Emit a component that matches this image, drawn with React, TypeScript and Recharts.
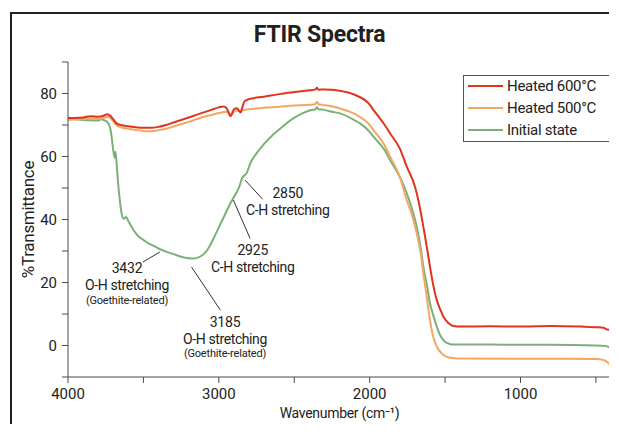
import React from 'react';
import { LineChart, Line, XAxis, YAxis, ReferenceLine, ReferenceDot, Label } from 'recharts';

const seriesNames = ['Heated 600°C', 'Heated 500°C', 'Initial state'];
const seriesColors = ['#e0341f', '#f3a764', '#7bb077'];

// wavenumber (cm-1) / %transmittance
const heated600Wn = [4000, 3900, 3850, 3800, 3760, 3740, 3720, 3700, 3680, 3650, 3600, 3550, 3500, 3450, 3400, 3350, 3300, 3250, 3200, 3150, 3100, 3050, 3000, 2970, 2950, 2935, 2925, 2915, 2900, 2880, 2865, 2855, 2845, 2830, 2800, 2700, 2600, 2500, 2400, 2360, 2350, 2340, 2300, 2200, 2100, 2000, 1975, 1900, 1865, 1800, 1754, 1700, 1688, 1660, 1644, 1620, 1600, 1580, 1555, 1530, 1511, 1480, 1445, 1400, 1200, 1000, 800, 600, 500, 450, 420, 400];
const heated600T = [72.2, 72.4, 72.8, 72.6, 73.0, 73.4, 72.9, 71.8, 70.6, 70.0, 69.6, 69.3, 69.1, 69.1, 69.4, 70.0, 70.8, 71.6, 72.4, 73.2, 74.0, 74.8, 75.6, 75.9, 75.4, 74.0, 72.8, 73.3, 75.0, 75.3, 74.4, 74.0, 75.5, 77.5, 78.2, 79.0, 79.8, 80.5, 81.0, 81.3, 81.8, 81.2, 81.3, 80.9, 79.6, 76.5, 74.8, 70.0, 67.4, 62.5, 56.8, 50.5, 48.3, 42.0, 37.7, 31.0, 25.0, 19.5, 14.4, 11.2, 9.1, 7.2, 6.2, 6.0, 6.1, 6.0, 6.2, 6.0, 5.8, 5.6, 5.0, 5.4];

const heated500Wn = [4000, 3900, 3800, 3760, 3740, 3720, 3700, 3680, 3650, 3600, 3550, 3500, 3450, 3400, 3350, 3300, 3250, 3200, 3150, 3100, 3050, 3000, 2950, 2930, 2920, 2900, 2880, 2860, 2850, 2800, 2700, 2600, 2500, 2400, 2360, 2350, 2340, 2300, 2200, 2100, 2000, 1975, 1900, 1865, 1800, 1754, 1720, 1688, 1660, 1644, 1620, 1600, 1580, 1555, 1520, 1489, 1450, 1423, 1000, 700, 500, 450, 420, 400];
const heated500T = [71.6, 71.9, 72.0, 72.3, 72.6, 72.2, 71.2, 70.0, 69.3, 68.8, 68.4, 68.1, 68.0, 68.3, 68.8, 69.5, 70.3, 71.0, 71.8, 72.6, 73.2, 73.8, 74.2, 73.6, 73.3, 74.2, 74.6, 74.4, 74.6, 75.0, 75.5, 75.8, 76.2, 76.4, 76.6, 77.4, 76.6, 76.3, 75.3, 73.5, 70.0, 68.4, 63.5, 60.0, 53.5, 46.2, 41.5, 35.6, 28.8, 22.9, 15.0, 8.1, 3.0, -0.4, -2.6, -3.6, -4.0, -4.1, -4.2, -4.2, -4.3, -4.6, -5.5, -6.5];

const initialWn = [4000, 3950, 3900, 3850, 3800, 3780, 3760, 3740, 3720, 3710, 3700, 3690, 3685, 3675, 3665, 3655, 3645, 3630, 3615, 3600, 3570, 3540, 3500, 3450, 3432, 3400, 3350, 3300, 3250, 3200, 3170, 3140, 3100, 3070, 3040, 3000, 2960, 2925, 2904, 2880, 2860, 2850, 2840, 2815, 2790, 2750, 2700, 2639, 2600, 2506, 2450, 2400, 2360, 2350, 2340, 2300, 2250, 2196, 2100, 2064, 2000, 1975, 1900, 1865, 1800, 1754, 1720, 1688, 1660, 1644, 1620, 1600, 1580, 1555, 1530, 1500, 1470, 1450, 1200, 1000, 800, 500, 430, 400];
const initialT = [72.0, 71.8, 71.6, 71.5, 71.4, 71.8, 71.5, 71.0, 69.0, 66.0, 62.0, 59.5, 61.5, 56.0, 50.0, 45.5, 42.0, 40.2, 40.8, 39.5, 37.0, 35.0, 33.5, 32.0, 31.6, 30.8, 29.8, 29.0, 28.2, 27.7, 27.6, 27.9, 29.0, 30.8, 33.5, 37.5, 41.5, 45.0, 46.8, 48.8, 51.0, 52.6, 53.5, 54.8, 58.0, 61.0, 64.0, 67.0, 68.6, 72.1, 73.6, 74.6, 75.0, 75.6, 75.0, 74.8, 74.2, 73.7, 71.5, 70.5, 67.8, 66.3, 62.0, 58.9, 53.5, 48.3, 43.5, 37.7, 30.5, 25.0, 19.0, 13.4, 9.8, 6.0, 3.0, 1.2, 0.5, 0.3, 0.3, 0.2, 0.2, 0.0, -0.2, -1.0];

const xTicks = [500, 1000, 1500, 2000, 2500, 3000, 3500, 4000];
const yTicks = [-10, 0, 10, 20, 30, 40, 50, 60, 70, 80, 90];

const toPoints = (wn: number[], t: number[]) => wn.map((w, i) => ({ wn: w, t: t[i] }));
const series = [
  { name: seriesNames[2], color: seriesColors[2], data: toPoints(initialWn, initialT) },
  { name: seriesNames[1], color: seriesColors[1], data: toPoints(heated500Wn, heated500T) },
  { name: seriesNames[0], color: seriesColors[0], data: toPoints(heated600Wn, heated600T) },
];

// peak labels: text anchor and leader line, in data units
const annotations = [
  { tx: 3609, ty: 24.6, lines: ['3432', 'O-H stretching', '(Goethite-related)'], seg: [[3390, 29.7], [3503, 26.5]] },
  { tx: 2959, ty: 7.5, lines: ['3185', 'O-H stretching', '(Goethite-related)'], seg: [[3181, 24.9], [2989, 11.2]] },
  { tx: 2775, ty: 30.3, lines: ['2925', 'C-H stretching'], seg: [[2904, 46.2], [2793, 34.0]] },
  { tx: 2543, ty: 48.3, lines: ['2850', 'C-H stretching'], seg: [[2826, 52.5], [2709, 46.4]] },
];

const font = 'Roboto, "Noto Sans", sans-serif';
const axisColor = '#4a4a4a';

function AnnotationText({ cx, cy, lines }: { cx: number; cy: number; lines: string[] }) {
  return (
    <g>
      {lines.map((s, i) => (
        <text
          key={i}
          x={cx}
          y={cy + (i === 0 ? 0 : i === 1 ? 17 : 32)}
          textAnchor="middle"
          dominantBaseline="central"
          fontFamily={font}
          fontSize={i === 2 ? 11 : 14}
          letterSpacing={i === 1 ? -0.4 : -0.2}
          fill="#222"
        >
          {s}
        </text>
      ))}
    </g>
  );
}

function ChartLegend() {
  const order = [0, 1, 2];
  return (
    <div
      style={{
        position: 'absolute', left: 463, top: 75, width: 147, height: 67,
        border: '1px solid #555', background: '#fff', boxSizing: 'border-box',
        fontFamily: font, fontSize: 15, color: '#222',
      }}
    >
      {order.map((i, row) => (
        <div key={i} style={{ position: 'absolute', top: 1 + row * 22, left: 4, height: 18, display: 'flex', alignItems: 'center', whiteSpace: 'nowrap' }}>
          <div style={{ width: 35, height: 2, background: seriesColors[i], marginRight: 4 }} />
          <span style={{ letterSpacing: -0.3 }}>{seriesNames[i]}</span>
        </div>
      ))}
    </div>
  );
}

export default function App() {
  return (
    <div style={{ position: 'relative', width: 617, height: 432, margin: -8, overflow: 'hidden', background: '#fff' }}>
      <div style={{ position: 'absolute', left: 10, top: 12, width: 660, height: 480, border: '2px solid #231f20', boxSizing: 'border-box' }} />
      <div
        style={{
          position: 'absolute', left: 11, top: 21, width: 617, textAlign: 'center',
          fontFamily: font, fontWeight: 700, fontSize: 23, letterSpacing: -0.2, color: '#231f20',
        }}
      >
        FTIR Spectra
      </div>
      <div style={{ position: 'absolute', left: 0, top: 0 }}>
        <LineChart width={617} height={432} margin={{ top: 62, right: 6, bottom: 15, left: 8 }}>
          <XAxis
            dataKey="wn"
            type="number"
            domain={[400, 4000]}
            reversed
            allowDataOverflow
            ticks={xTicks}
            interval={0}
            tickFormatter={(v: number) => (v % 1000 === 0 ? String(v) : '')}
            height={40}
            tickSize={6}
            tickMargin={5}
            stroke={axisColor}
            tick={{ fill: '#222', fontSize: 15, fontFamily: font }}
          >
            <Label
              content={({ viewBox }: any) => (
                <text
                  x={viewBox.x + viewBox.width / 2}
                  y={viewBox.y + 36}
                  textAnchor="middle"
                  dominantBaseline="central"
                  fontFamily={font}
                  fontSize={14}
                  letterSpacing={-0.3}
                  fill="#222"
                >
                  Wavenumber (cm⁻¹)
                </text>
              )}
            />
          </XAxis>
          <XAxis xAxisId="top" orientation="top" type="number" domain={[400, 4000]} reversed height={0} tick={false} tickLine={false} stroke={axisColor} />
          <YAxis
            type="number"
            domain={[-10, 90]}
            allowDataOverflow
            ticks={yTicks}
            interval={0}
            tickFormatter={(v: number) => (v % 20 === 0 ? String(v) : '')}
            width={60}
            tickSize={6}
            tickMargin={5}
            stroke={axisColor}
            tick={{ fill: '#222', fontSize: 15, fontFamily: font }}
          >
            <Label
              content={({ viewBox }: any) => {
                const cx = viewBox.x + 20;
                const cy = viewBox.y + viewBox.height / 2;
                return (
                  <text
                    x={cx}
                    y={cy}
                    transform={`rotate(-90 ${cx} ${cy})`}
                    textAnchor="middle"
                    dominantBaseline="central"
                    fontFamily={font}
                    fontSize={17}
                    letterSpacing={-0.3}
                    fill="#222"
                  >
                    %Transmittance
                  </text>
                );
              }}
            />
          </YAxis>
          <YAxis yAxisId="right" orientation="right" type="number" domain={[-10, 90]} width={0} tick={false} tickLine={false} stroke={axisColor} />

          {series.map((s) => (
            <Line
              key={s.name}
              data={s.data}
              dataKey="t"
              name={s.name}
              type="monotone"
              stroke={s.color}
              strokeWidth={2}
              dot={false}
              isAnimationActive={false}
            />
          ))}

          {annotations.map((a, i) => (
            <ReferenceLine
              key={'l' + i}
              segment={[{ x: a.seg[0][0], y: a.seg[0][1] }, { x: a.seg[1][0], y: a.seg[1][1] }]}
              stroke="#333"
              strokeWidth={1}
              ifOverflow="visible"
            />
          ))}
          {annotations.map((a, i) => (
            <ReferenceDot
              key={'t' + i}
              x={a.tx}
              y={a.ty}
              r={0}
              ifOverflow="visible"
              shape={(p: any) => <AnnotationText cx={p.cx} cy={p.cy} lines={a.lines} />}
            />
          ))}
        </LineChart>
      </div>
      <ChartLegend />
    </div>
  );
}
